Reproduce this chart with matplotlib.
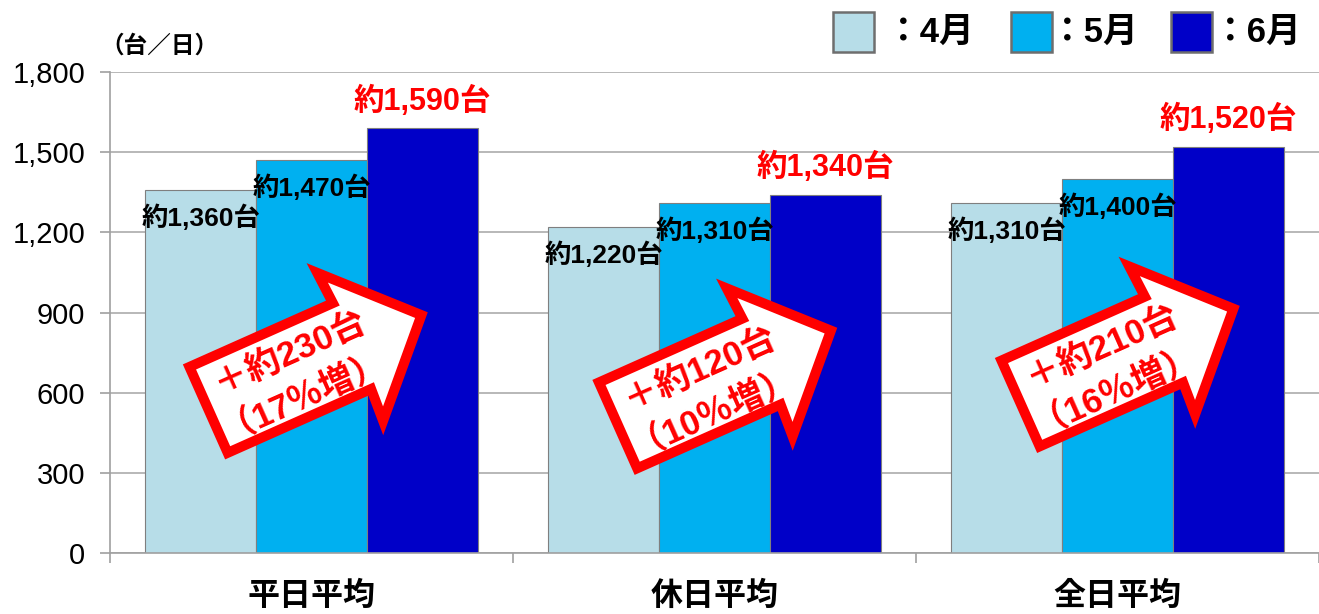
import matplotlib
matplotlib.use("Agg")
import matplotlib.pyplot as plt
from matplotlib.patches import Polygon, Rectangle
from matplotlib.transforms import Affine2D, ScaledTranslation
from matplotlib.ticker import FuncFormatter, FixedLocator

plt.rcParams['font.family'] = ['Liberation Sans', 'Noto Sans CJK JP']

# ---- data ----
categories = ["平日平均", "休日平均", "全日平均"]
months = ["4月", "5月", "6月"]
apr = [1360, 1220, 1310]
may = [1470, 1310, 1400]
jun = [1590, 1340, 1520]
yticks = [0, 300, 600, 900, 1200, 1500, 1800]

# ---- style ----
colors = ["#B7DDE8", "#00B0F0", "#0000C8"]
grid_col = "#ABABAB"
red = "#FF0000"

W, H = 1319, 614
fig = plt.figure(figsize=(W / 100, H / 100), dpi=100)
ax = fig.add_axes([110 / W, 61 / H, (W - 110) / W, 481 / H])

bw = 0.275
series = [apr, may, jun]
xs = list(range(len(categories)))
for k, (vals, c) in enumerate(zip(series, colors)):
    ax.bar([x + (k - 1) * bw for x in xs], vals, width=bw, color=c,
           edgecolor="#7F7F7F", linewidth=0.8, zorder=2)

ax.set_xlim(-0.5, 2.5)
ax.set_ylim(0, 1800)
ax.set_yticks(yticks)
ax.yaxis.set_major_formatter(FuncFormatter(lambda v, p: f"{int(v):,}"))
ax.grid(axis="y", color=grid_col, linewidth=1.2, zorder=0)
ax.set_axisbelow(True)
for s in ["top", "right"]:
    ax.spines[s].set_visible(False)
for s in ["left", "bottom"]:
    ax.spines[s].set_color("#A0A0A0")
    ax.spines[s].set_linewidth(1.2)
ax.tick_params(axis="y", direction="out", length=7, width=1.2, color="#A0A0A0",
               labelsize=21, pad=11)

# x ticks: separators as major, labels as minor
ax.xaxis.set_major_locator(FixedLocator([-0.5, 0.5, 1.5, 2.5]))
ax.xaxis.set_minor_locator(FixedLocator(xs))
ax.set_xticklabels([], minor=False)
ax.set_xticks(xs, minor=True)
ax.set_xticklabels(categories, minor=True, fontsize=23, fontweight="bold")
ax.tick_params(axis="x", which="major", direction="out", length=7, width=1.2, color="#A0A0A0")
ax.tick_params(axis="x", which="minor", length=0, pad=21)

# value labels
for k, vals in enumerate(series):
    for x, v in zip(xs, vals):
        xb = x + (k - 1) * bw
        if k < 2:
            ax.annotate(f"約{v:,}台", (xb, v), xytext=(0, -20), textcoords="offset points",
                        ha="center", va="center", fontsize=19, fontweight="bold",
                        color="black", zorder=4)
        else:
            ax.annotate(f"約{v:,}台", (xb, v), xytext=(0, 19.5), textcoords="offset points",
                        ha="center", va="center", fontsize=22, fontweight="bold",
                        color=red, zorder=4)

# increase arrows
arrow_anchor_y = [528, 470, 552]
arrow_dx = [-107.5, -101, -101.5]
angle = 24
verts = [(5, -47), (5, 47), (162, 47), (160, 81), (238, 0), (160, -81), (162, -47)]
for i in xs:
    diff = jun[i] - apr[i]
    pct = round(diff / apr[i] * 100)
    tr = Affine2D().rotate_deg(angle).translate(arrow_dx[i], 0) + \
        ScaledTranslation(i, arrow_anchor_y[i], ax.transData)
    poly = Polygon(verts, closed=True, facecolor="white", edgecolor=red,
                   linewidth=7.2, joinstyle="miter", transform=tr, clip_on=False, zorder=6)
    ax.add_patch(poly)
    ax.text(103, 19, f"＋約{diff}台", transform=tr, rotation=angle, rotation_mode="anchor",
            ha="center", va="center", fontsize=25, fontweight="bold", color=red, zorder=7)
    ax.text(99, -19, f"（{pct}％増）", transform=tr, rotation=angle, rotation_mode="anchor",
            ha="center", va="center", fontsize=25, fontweight="bold", color=red, zorder=7)

# unit label
fig.text(100 / W, 1 - 46 / H, "（台／日）", ha="left", va="center", fontsize=17,
         fontweight="bold")

# legend (manual)
sq_left = [833, 1011, 1171]
txt_left = [886, 1050, 1213]
for c, m, sl, tl in zip(colors, months, sq_left, txt_left):
    fig.patches.append(Rectangle((sl / W, 1 - 52 / H), 41 / W, 40 / H, transform=fig.transFigure,
                                 facecolor=c, edgecolor="#6E6E6E", linewidth=1.8))
    fig.text(tl / W, 1 - 32 / H, f"：{m}", ha="left", va="center", fontsize=25,
             fontweight="bold")

fig.savefig("out.png", dpi=100)
